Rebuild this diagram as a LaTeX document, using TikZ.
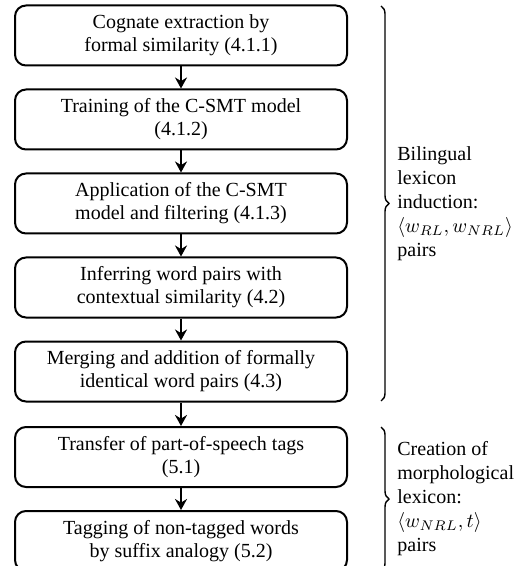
\documentclass[tikz,border=0pt]{standalone}
\usepackage{fontspec}
\setmainfont{Liberation Serif}
\usetikzlibrary{arrows.meta,decorations.pathreplacing}
\begin{document}
\begin{tikzpicture}[x=0.5pt,y=-0.5pt,
 stepbox/.style={draw, line width=1pt, rounded corners=5.5pt, minimum width=166pt, minimum height=30pt, align=center, font=\fontsize{10}{11.5}\selectfont, inner sep=0pt},
 flow/.style={-{Stealth[length=5.5pt,width=6pt]}, line width=1pt},
 brc/.style={decorate, decoration={brace, amplitude=4pt}, line width=0.7pt},
 side/.style={anchor=west, align=left, font=\fontsize{10}{12}\selectfont, inner sep=0pt}]
\useasboundingbox (0,0) rectangle (518,566);
\clip (0,0) rectangle (518,566);
\node[stepbox] (b1) at (181,35.5) {Cognate extraction by\\formal similarity (4.1.1)};
\node[stepbox] (b2) at (181,119.5) {Training of the C-SMT model\\(4.1.2)};
\node[stepbox] (b3) at (181,203.5) {Application of the C-SMT\\model and filtering (4.1.3)};
\node[stepbox] (b4) at (181,287.5) {Inferring word pairs with\\contextual similarity (4.2)};
\node[stepbox] (b5) at (181,371.5) {Merging and addition of formally\\identical word pairs (4.3)};
\node[stepbox] (b6) at (181,457) {Transfer of part-of-speech tags\\(5.1)};
\node[stepbox] (b7) at (181,541) {Tagging of non-tagged words\\by suffix analogy (5.2)};
\foreach \a/\b in {b1/b2,b2/b3,b3/b4,b4/b5,b5/b6,b6/b7}
  \draw[flow] (\a.south) -- (\b.north);
\coordinate (t1) at (381,6);
\coordinate (e1) at (381,401);
\coordinate (t2) at (381,427);
\coordinate (e2) at (381,571);
\draw[brc] (t1) -- (e1);
\draw[brc] (t2) -- (e2);
\node[side] (l1) at (397,203.5) {Bilingual\\lexicon\\induction:\\$\langle w_{RL}, w_{NRL}\rangle$\\pairs};
\node[side] (l2) at (397,499) {Creation of\\morphological\\lexicon:\\$\langle w_{NRL}, t\rangle$\\pairs};
\end{tikzpicture}
\end{document}
